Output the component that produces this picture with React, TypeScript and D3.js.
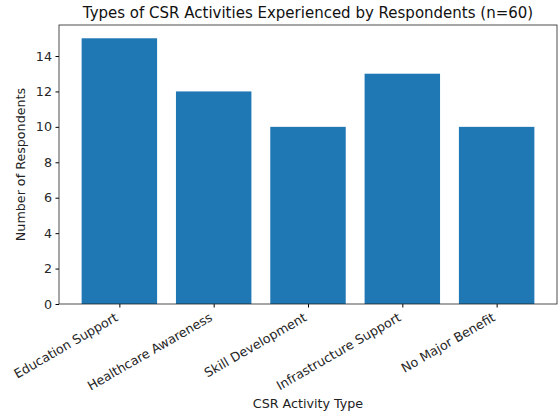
import { useRef, useEffect } from 'react';
import * as d3 from 'd3';

const categories = ['Education Support', 'Healthcare Awareness', 'Skill Development', 'Infrastructure Support', 'No Major Benefit'];
const counts = [15, 12, 10, 13, 10];
const yTicks = [0, 2, 4, 6, 8, 10, 12, 14];

const width = 558;
const height = 415;
const barColor = '#1f77b4';

export default function App() {
    const svgRef = useRef<SVGSVGElement | null>(null);

    useEffect(() => {
        if (!svgRef.current) return;
        d3.select(svgRef.current).selectAll('*').remove();

        const margin = { top: 25, right: 1, bottom: 111, left: 59 };
        const innerWidth = width - margin.left - margin.right;
        const innerHeight = height - margin.top - margin.bottom;

        const svg = d3.select(svgRef.current)
            .attr('width', width)
            .attr('height', height)
            .style('font-family', 'DejaVu Sans, sans-serif');

        const g = svg.append('g')
            .attr('transform', `translate(${margin.left},${margin.top})`);

        // matplotlib style: bar width 0.8, 5% margins
        const n = categories.length;
        const xScale = d3.scaleLinear()
            .domain([-0.4 - 0.05 * (n - 0.2), n - 0.6 + 0.05 * (n - 0.2)])
            .range([0, innerWidth]);

        const yMax = d3.max(counts) as number;
        const yScale = d3.scaleLinear()
            .domain([0, yMax * 1.05])
            .range([innerHeight, 0]);

        g.selectAll('rect.bar')
            .data(counts)
            .enter().append('rect')
            .attr('class', 'bar')
            .attr('x', (_, i) => xScale(i - 0.4))
            .attr('width', xScale(0.8) - xScale(0))
            .attr('y', d => yScale(d))
            .attr('height', d => innerHeight - yScale(d))
            .attr('fill', barColor);

        // y axis
        const yAxis = g.append('g')
            .call(d3.axisLeft(yScale).tickValues(yTicks).tickSize(3.5).tickPadding(3.5).tickSizeOuter(0));
        yAxis.selectAll('text').attr('font-size', 12.7).attr('fill', '#262626').attr('font-family', 'DejaVu Sans, sans-serif');
        yAxis.select('.domain').remove();

        // x axis
        const xAxis = g.append('g')
            .attr('transform', `translate(0,${innerHeight})`)
            .call(d3.axisBottom(xScale).tickValues(d3.range(n)).tickFormat((_, i) => categories[i]).tickSize(3.5).tickSizeOuter(0));
        xAxis.select('.domain').remove();
        xAxis.selectAll('text')
            .attr('font-size', 12.7)
            .attr('fill', '#262626')
            .attr('font-family', 'DejaVu Sans, sans-serif')
            .attr('dy', null)
            .attr('y', 0)
            .attr('transform', 'translate(-1,16) rotate(-30)')
            .style('text-anchor', 'end');

        // frame
        g.append('rect')
            .attr('width', innerWidth)
            .attr('height', innerHeight)
            .attr('fill', 'none')
            .attr('stroke', '#222')
            .attr('stroke-width', 0.8);

        svg.append('text')
            .attr('x', margin.left + innerWidth / 2)
            .attr('y', 18)
            .attr('text-anchor', 'middle')
            .attr('font-size', 15)
            .attr('fill', '#111')
            .text('Types of CSR Activities Experienced by Respondents (n=60)');

        svg.append('text')
            .attr('x', margin.left + innerWidth / 2)
            .attr('y', 408)
            .attr('text-anchor', 'middle')
            .attr('font-size', 12.7)
            .attr('fill', '#222')
            .text('CSR Activity Type');

        svg.append('text')
            .attr('transform', `translate(25,${margin.top + innerHeight / 2}) rotate(-90)`)
            .attr('text-anchor', 'middle')
            .attr('font-size', 12.7)
            .attr('fill', '#222')
            .text('Number of Respondents');
    }, []);

    return (
        <svg ref={svgRef} style={{ position: 'absolute', left: 0, top: 0 }} />
    );
}
